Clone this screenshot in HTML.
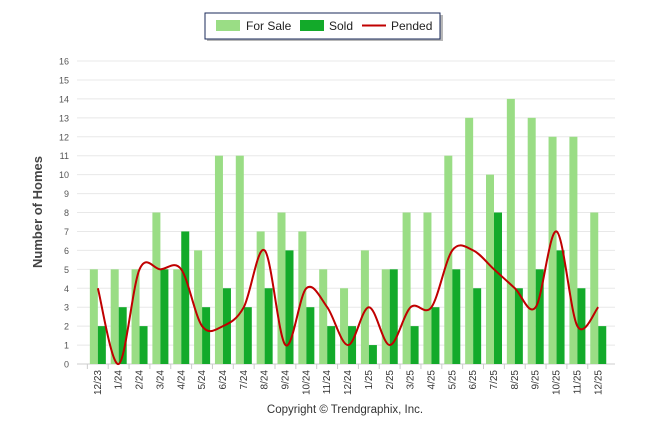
<!DOCTYPE html>
<html><head><meta charset="utf-8"><style>
body{margin:0;background:#fff;font-family:"Liberation Sans",sans-serif}
svg{display:block}
</style></head><body>
<svg id="c" width="646" height="434" viewBox="0 0 646 434">
<g>
<rect x="207" y="15" width="236" height="26" fill="#888" opacity="0.6"/>
<rect x="205" y="13" width="235" height="26" fill="#fff" stroke="#1a2a5a" stroke-width="1"/>
<rect x="216" y="20" width="24" height="11" fill="#9ADD85"/>
<text x="246" y="30" font-size="12" fill="#222">For Sale</text>
<rect x="300" y="20" width="24" height="11" fill="#13AA2A"/>
<text x="329" y="30" font-size="12" fill="#222">Sold</text>
<line x1="362" y1="25.5" x2="386" y2="25.5" stroke="#C00000" stroke-width="2"/>
<text x="391" y="30" font-size="12" fill="#222">Pended</text>
</g>
<text transform="translate(42,212) rotate(-90)" text-anchor="middle" font-size="13" font-weight="bold" fill="#444">Number of Homes</text>
<text x="345" y="413" text-anchor="middle" font-size="11.5" fill="#333">Copyright © Trendgraphix, Inc.</text>
<g id="grid"></g><g id="bars"></g><g id="line"></g><g id="axes"></g>
</svg>
<script>
const categories=["12/23","1/24","2/24","3/24","4/24","5/24","6/24","7/24","8/24","9/24","10/24","11/24","12/24","1/25","2/25","3/25","4/25","5/25","6/25","7/25","8/25","9/25","10/25","11/25","12/25"];
const forSale=[5,5,5,8,5,6,11,11,7,8,7,5,4,6,5,8,8,11,13,10,14,13,12,12,8];
const sold=[2,3,2,5,7,3,4,3,4,6,3,2,2,1,5,2,3,5,4,8,4,5,6,4,2];
const pended=[4,0,5,5,5,2,2,3,6,1,4,3,1,3,1,3,3,6,6,5,4,3,7,2,3];
const yTicks=[0,1,2,3,4,5,6,7,8,9,10,11,12,13,14,15,16];
const NS="http://www.w3.org/2000/svg";
const y0=364,yTop=61,x0=77,step=20.85;
const Y=v=>y0-(v/16)*(y0-yTop);
const X=i=>x0+step*(i+1);
function mk(t,a,p){const e=document.createElementNS(NS,t);for(const k in a)e.setAttribute(k,a[k]);document.getElementById(p).appendChild(e);return e;}
yTicks.forEach(v=>{
 const g=mk("line",{x1:x0,x2:615,y1:Y(v),y2:Y(v),stroke:v==0?"#ccc":"#e8e8e8","stroke-width":1},"grid");
 
 
 const t=mk("text",{x:69,y:Y(v)+3.5,"text-anchor":"end","font-size":"9",fill:"#555"},"axes");
 t.textContent=v;
 
 
});
categories.forEach((c,i)=>{
 const cx=X(i);
 const b1=mk("rect",{x:cx-8,y:Y(forSale[i]),width:8,height:y0-Y(forSale[i]),fill:"#9ADD85"},"bars");
 
 
 const b2=mk("rect",{x:cx,y:Y(sold[i]),width:8,height:y0-Y(sold[i]),fill:"#13AA2A"},"bars");
 
 
 const tk=mk("line",{x1:cx-10.5,x2:cx-10.5,y1:y0,y2:y0+5,stroke:"#ccc"},"axes");
 
 
 const t=mk("text",{transform:`translate(${cx+3},${y0+6}) rotate(-90)`,"text-anchor":"end","font-size":"10",fill:"#333"},"axes");
 t.textContent=c;
 
 
});
const pts=pended.map((v,i)=>[X(i),Y(v)]);
let d=`M${pts[0][0]},${pts[0][1]}`;
for(let i=0;i<pts.length-1;i++){
 const p0=pts[Math.max(i-1,0)],p1=pts[i],p2=pts[i+1],p3=pts[Math.min(i+2,pts.length-1)];
 const c1=[p1[0]+(p2[0]-p0[0])/6,p1[1]+(p2[1]-p0[1])/6];
 const c2=[p2[0]-(p3[0]-p1[0])/6,p2[1]-(p3[1]-p1[1])/6];
 d+=` C${c1[0]},${c1[1]} ${c2[0]},${c2[1]} ${p2[0]},${p2[1]}`;
}
const ln=mk("path",{d:d,fill:"none",stroke:"#C00000","stroke-width":2},"line");


</script>
</body></html>
